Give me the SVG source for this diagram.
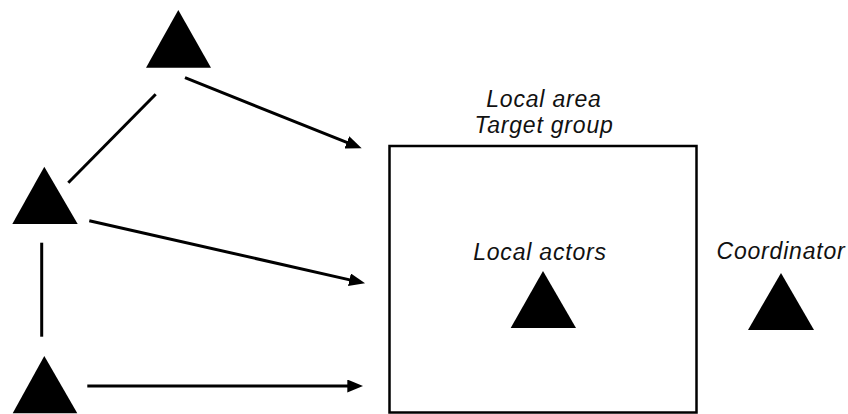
<svg xmlns="http://www.w3.org/2000/svg" width="848" height="414" viewBox="0 0 848 414">
  <style>
    .tri { fill: #000; }
    .conn { stroke: #000; stroke-width: 3; fill: none; }
    .box { stroke: #000; stroke-width: 2.5; fill: #fff; }
    .lbl { font-family: "Liberation Sans", Arial, Helvetica, sans-serif; font-style: italic; font-size: 23px; fill: #111; text-anchor: middle; letter-spacing: 0.8px; }
  </style>
  <defs>
    <marker id="arrow" markerUnits="userSpaceOnUse" markerWidth="16" markerHeight="13" refX="6" refY="6.5" orient="auto">
      <polygon points="0,0 16,6.5 0,13" fill="#000"/>
    </marker>
  </defs>
  <rect width="848" height="414" fill="#fff"/>

  <g id="local-area">
    <rect class="box" x="389.5" y="146" width="307" height="266.5"/>
    <text class="lbl" x="544" y="107">Local area</text>
    <text class="lbl" x="544" y="133">Target group</text>
  </g>

  <g id="connectors">
    <line class="conn" x1="155.7" y1="94.3" x2="68.3" y2="182.7"/>
    <line class="conn" x1="41.7" y1="242.7" x2="41.7" y2="336.7"/>
    <line class="conn" x1="185" y1="77.7" x2="352.4" y2="144.6" marker-end="url(#arrow)"/>
    <line class="conn" x1="89.3" y1="220.7" x2="355.3" y2="281.1" marker-end="url(#arrow)"/>
    <line class="conn" x1="87.3" y1="386" x2="353.3" y2="386" marker-end="url(#arrow)"/>
  </g>

  <g id="actor-top">
    <polygon class="tri" points="178.3,10 211,67.7 146,67.7"/>
  </g>
  <g id="actor-middle">
    <polygon class="tri" points="44.3,166.7 77.7,224 12.3,224"/>
  </g>
  <g id="actor-bottom">
    <polygon class="tri" points="44.3,356 77.3,413.3 12.7,413.3"/>
  </g>

  <g id="local-actors">
    <text class="lbl" x="540" y="260">Local actors</text>
    <polygon class="tri" points="543,271 576,328 510.7,328"/>
  </g>

  <g id="coordinator">
    <text class="lbl" x="781" y="259">Coordinator</text>
    <polygon class="tri" points="781,273 814,330 748,330"/>
  </g>
</svg>
